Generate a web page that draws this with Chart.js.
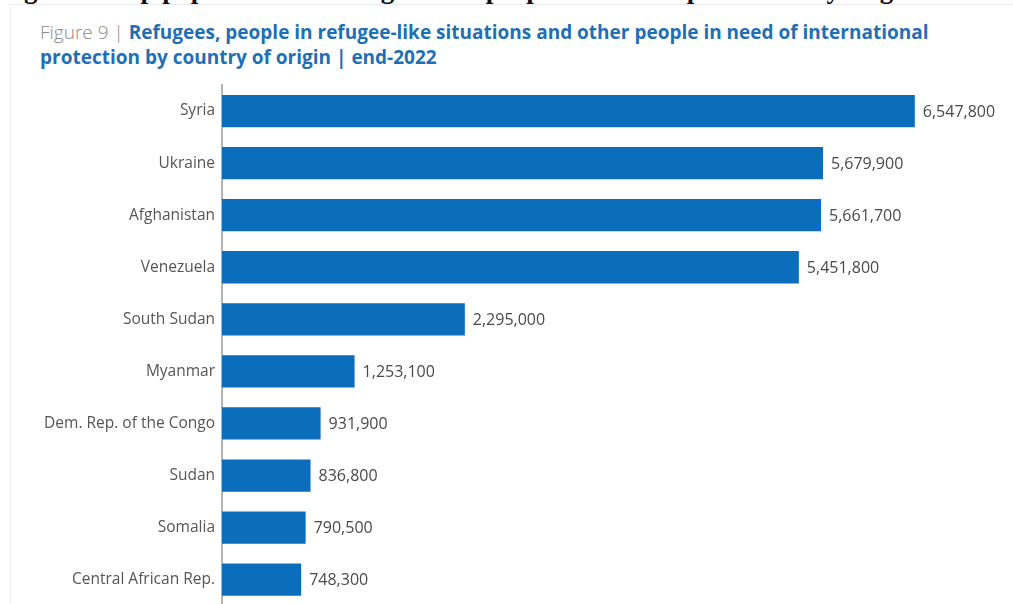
<!DOCTYPE html>
<html>
<head>
<meta charset="utf-8">
<script src="https://cdn.jsdelivr.net/npm/chart.js@4/dist/chart.umd.min.js"></script>
<style>
  html, body { margin: 0; padding: 0; background: #fff; }
  #wrap { position: relative; width: 1013px; height: 604px; overflow: hidden; }
  #frame { position: absolute; left: 10px; top: 4px; right: 0; bottom: 0;
           border-top: 1px solid #ececec; border-left: 1px solid #f0f0f0; }
  #doc { position: absolute; left: 0; top: -26px; white-space: nowrap;
         font: bold 27px "Liberation Serif", serif; color: #111; }
  #title { position: absolute; left: 40px; top: 20px; width: 980px; white-space: nowrap;
           font: 19px "Open Sans", sans-serif; line-height: 25px; color: #1f6fb5; }
  #title .fig { color: #8a8a8a; font-weight: 300; }
  #title b { font-weight: 700; }
  #chart { position: absolute; left: 0; top: 0; }
</style>
</head>
<body>
<div id="wrap">
  <div id="doc">Figure 9: Top populations of refugees and people in need of protection by origin</div>
  <div id="frame"></div>
  <div id="title"><span class="fig">Figure 9 | </span><b>Refugees, people in refugee-like situations and other people in need of international<br>protection by country of origin | end-2022</b></div>
  <canvas id="chart" width="1013" height="622"></canvas>
</div>
<script>
var countries = ['Syria', 'Ukraine', 'Afghanistan', 'Venezuela', 'South Sudan', 'Myanmar',
                 'Dem. Rep. of the Congo', 'Sudan', 'Somalia', 'Central African Rep.'];
var people = [6547800, 5679900, 5661700, 5451800, 2295000, 1253100, 931900, 836800, 790500, 748300];

// value text just past the end of each bar
var valueLabels = {
    id: 'valueLabels',
    afterDatasetsDraw: function(chart) {
        var ctx = chart.ctx;
        var meta = chart.getDatasetMeta(0);
        ctx.save();
        ctx.font = '16px "Open Sans", sans-serif';
        ctx.fillStyle = '#4a4a4a';
        ctx.textAlign = 'left';
        ctx.textBaseline = 'middle';
        meta.data.forEach(function(bar, i) {
            ctx.fillText(people[i].toLocaleString('en-US'), bar.x + 8, bar.y + 1);
        });
        ctx.restore();
    }
};

var chartRefugees = new Chart(document.getElementById('chart'), {
    type: 'bar',
    data: {
        labels: countries,
        datasets: [{
            label: 'People in need of international protection',
            backgroundColor: '#0a6ebd',
            data: people,
            barPercentage: 0.62,
            categoryPercentage: 1
        }]
    },
    options: {
        indexAxis: 'y',
        responsive: false,
        animation: false,
        layout: { padding: { top: 85, right: 8, bottom: 0, left: 0 } },
        plugins: { legend: { display: false }, tooltip: { enabled: false } },
        scales: {
            x: { display: false, min: 0, max: 7400000 },
            y: {
                afterFit: function(scale) { scale.width = 222; },
                grid: { display: false, drawTicks: false },
                border: { display: true, color: '#b4b4b4', width: 2 },
                ticks: { color: '#555', padding: 7, font: { family: 'Open Sans', size: 15.5 } }
            }
        }
    },
    plugins: [valueLabels]
});
</script>
</body>
</html>
